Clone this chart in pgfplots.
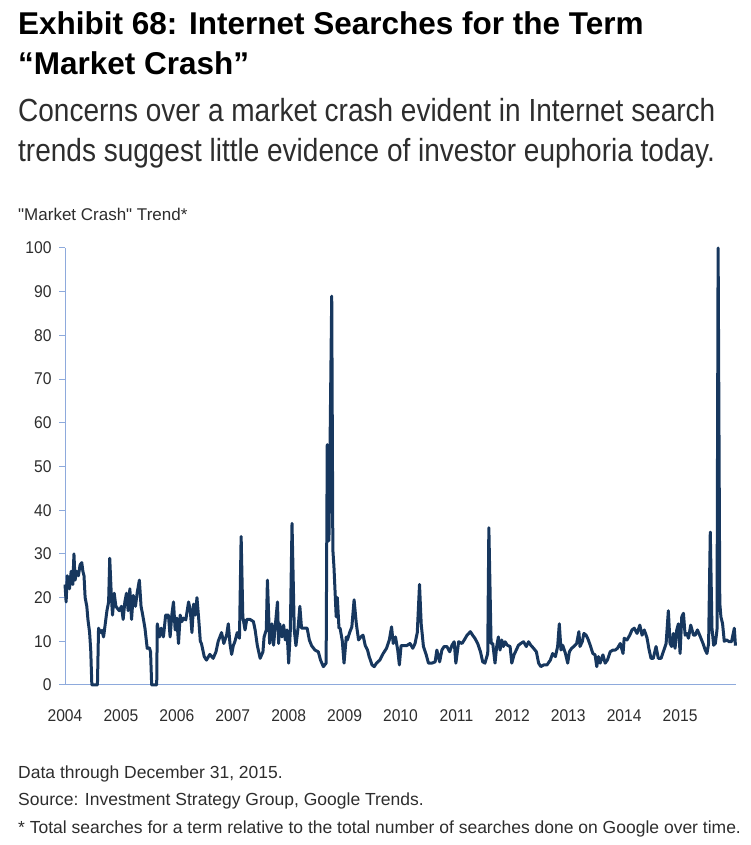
\documentclass[border=0pt]{standalone}
\usepackage{fontspec}
\setmainfont{Liberation Sans}
\newfontfamily\titlefont[FakeStretch=1.0]{Liberation Sans}
\newfontfamily\subfont[FakeStretch=0.875]{Liberation Sans}
\newfontfamily\smallfont[FakeStretch=1.0]{Liberation Sans}
\newfontfamily\tickfont[FakeStretch=0.92]{Liberation Sans}
\usepackage{pgfplots}
\pgfplotsset{compat=1.18}

\definecolor{navy}{RGB}{23,55,94}
\definecolor{axisblue}{RGB}{142,170,220}
\definecolor{txtgray}{RGB}{45,45,45}

\pgfplotstableread{
x y
2004.00 23
2004.02 19
2004.04 25
2004.08 22
2004.11 26
2004.14 23
2004.16 30
2004.18 24
2004.21 26
2004.24 25
2004.27 27.5
2004.30 28
2004.32 26
2004.34 25
2004.36 20
2004.39 18
2004.41 15
2004.44 12
2004.46 8
2004.48 0
2004.58 0
2004.60 13
2004.63 12
2004.66 12.5
2004.69 11
2004.72 14
2004.75 17
2004.78 19
2004.80 29
2004.83 20
2004.85 16
2004.88 21
2004.91 18
2004.94 17.5
2004.97 17
2005.01 18
2005.04 15
2005.07 19
2005.10 21
2005.13 17
2005.16 22
2005.19 15
2005.22 20.5
2005.26 18
2005.29 21
2005.33 24
2005.36 18
2005.39 16
2005.43 13
2005.47 8.4
2005.51 8.5
2005.53 7.6
2005.55 0
2005.64 0
2005.65 14
2005.69 11
2005.72 13
2005.76 11
2005.80 16
2005.85 16
2005.88 11
2005.91 16
2005.94 19
2005.97 12.6
2006.00 15.3
2006.03 9.5
2006.06 16
2006.09 14.5
2006.12 15.3
2006.16 14.9
2006.21 19
2006.24 17.2
2006.27 12
2006.30 18.5
2006.33 16
2006.36 20
2006.39 15.3
2006.42 10
2006.44 9.5
2006.49 6.5
2006.53 5.7
2006.59 7
2006.65 6.1
2006.70 7.6
2006.74 10
2006.80 12
2006.84 9.5
2006.89 11.4
2006.92 14
2006.95 9.5
2006.98 7
2007.01 9
2007.04 10
2007.08 12
2007.12 10.7
2007.15 34
2007.18 15.6
2007.22 12.6
2007.25 15
2007.31 15
2007.37 14.5
2007.40 12.6
2007.44 9
2007.49 6.1
2007.54 7.6
2007.56 11
2007.60 12.6
2007.62 24
2007.66 9.5
2007.70 14
2007.73 9.1
2007.76 13.5
2007.80 19
2007.82 9.5
2007.84 14
2007.88 11
2007.91 13.7
2007.94 10.3
2007.97 12.6
2008.00 5
2008.03 12.6
2008.06 37
2008.10 12.6
2008.13 9
2008.17 13.3
2008.20 18
2008.23 13
2008.27 13
2008.33 13
2008.37 10.3
2008.41 9
2008.47 8
2008.53 7.6
2008.57 5.7
2008.62 4.2
2008.67 5
2008.69 55
2008.72 33
2008.74 55
2008.77 89
2008.79 31
2008.81 27
2008.85 15.6
2008.87 20
2008.90 13
2008.92 13
2008.96 10
2008.99 5
2009.03 11
2009.05 10.3
2009.09 12
2009.13 13.3
2009.17 19.5
2009.21 14
2009.25 10.3
2009.29 11
2009.33 11.4
2009.37 9
2009.41 8
2009.44 6.5
2009.49 4.6
2009.53 4.2
2009.57 5
2009.63 5.7
2009.69 7.2
2009.75 8.4
2009.80 10.3
2009.84 13.3
2009.87 9.5
2009.91 11
2009.95 8
2009.98 4.6
2010.01 9
2010.05 9
2010.11 9
2010.17 9.5
2010.22 8.4
2010.26 9.5
2010.30 12
2010.34 23
2010.37 14
2010.41 8.8
2010.46 6.9
2010.50 5
2010.56 5
2010.62 5.3
2010.65 8
2010.70 5.3
2010.74 8
2010.78 8.8
2010.83 8.8
2010.88 7.6
2010.92 9.1
2010.96 9.9
2010.99 5
2011.04 9.9
2011.10 9.5
2011.14 10.3
2011.19 11.4
2011.25 12.2
2011.29 11.4
2011.33 10.7
2011.38 9.5
2011.43 7.6
2011.47 5.3
2011.51 5
2011.56 7.2
2011.58 36
2011.62 9.5
2011.65 9.5
2011.69 5
2011.72 8.8
2011.75 11
2011.78 8
2011.81 10.3
2011.84 8.8
2011.87 9.9
2011.91 9.1
2011.96 8.8
2011.99 5
2012.03 6.9
2012.07 8
2012.11 9.1
2012.15 9.5
2012.20 9.9
2012.25 8.8
2012.29 9.9
2012.33 9.1
2012.38 8.4
2012.43 7.6
2012.47 5
2012.51 4.2
2012.56 4.6
2012.62 4.6
2012.68 5.7
2012.72 7.2
2012.77 6.5
2012.81 8.8
2012.84 14
2012.87 8
2012.90 9.1
2012.95 7.2
2012.99 5
2013.02 7.6
2013.06 8.4
2013.10 8.8
2013.15 9.5
2013.19 12.2
2013.21 8.8
2013.25 9.9
2013.28 11.8
2013.32 11.4
2013.36 10.3
2013.40 8.8
2013.44 7.2
2013.48 6.9
2013.51 4.2
2013.54 6.5
2013.57 5
2013.62 6.9
2013.66 5
2013.70 5.7
2013.75 7.6
2013.80 8
2013.84 8
2013.88 8.4
2013.93 9.5
2013.98 7.2
2014.00 10.7
2014.05 10.3
2014.10 11.4
2014.14 12.6
2014.18 13
2014.23 11.8
2014.28 13.7
2014.32 11.4
2014.36 12.6
2014.41 10.7
2014.44 8.4
2014.48 6.1
2014.52 6.1
2014.57 8.8
2014.61 6.1
2014.66 6.1
2014.70 7.6
2014.75 9.5
2014.79 17
2014.82 9.5
2014.85 8.8
2014.88 11.8
2014.91 8.4
2014.94 12.6
2014.97 14
2015.00 7.2
2015.03 15.6
2015.06 16.4
2015.09 11.4
2015.12 11.8
2015.15 10.7
2015.19 13.7
2015.24 11.4
2015.27 11.4
2015.31 12.6
2015.36 11.1
2015.41 9.5
2015.45 8
2015.48 7.2
2015.51 9.5
2015.54 35
2015.57 13
2015.60 9.1
2015.63 9.5
2015.66 12.6
2015.68 100
2015.71 18.7
2015.73 15.6
2015.76 14
2015.79 10
2015.83 10.3
2015.88 9.9
2015.92 9.9
2015.97 13
2015.99 9
}\trend

\begin{document}
\begin{tikzpicture}[x=1pt,y=1pt]
\useasboundingbox (0,0) rectangle (750,845);

\node[anchor=base west, inner sep=0, font=\titlefont\bfseries\fontsize{31.5}{36}\selectfont, text=black] at (18,810) {Exhibit 68: Internet Searches for the Term};
\node[anchor=base west, inner sep=0, font=\titlefont\bfseries\fontsize{31.5}{36}\selectfont, text=black] at (18,770) {“Market Crash”};
\node[anchor=base west, inner sep=0, font=\subfont\fontsize{32}{36}\selectfont, text=txtgray] at (18,723) {Concerns over a market crash evident in Internet search};
\node[anchor=base west, inner sep=0, font=\subfont\fontsize{32}{36}\selectfont, text=txtgray] at (18,683) {trends suggest little evidence of investor euphoria today.};

\node[anchor=base west, inner sep=0, font=\smallfont\fontsize{17}{20}\selectfont, text=txtgray] at (18,624) {"Market Crash" Trend*};

\begin{axis}[
  at={(65pt,160pt)}, anchor=south west,
  scale only axis, width=671pt, height=437pt,
  xmin=2004, xmax=2016, ymin=0, ymax=100,
  axis lines=left,
  axis line style={-, draw=axisblue, line width=1pt},
  xtick={2004,2005,...,2015},
  xticklabels={2004,2005,2006,2007,2008,2009,2010,2011,2012,2013,2014,2015},
  ytick={0,10,...,100},
  tick align=outside,
  major tick length=6pt,
  ytick style={draw=axisblue, line width=1pt},
  xtick style={draw=none},
  /pgf/number format/assume math mode=true,
  tick label style={font=\tickfont\fontsize{17}{20}\selectfont, text=txtgray},
  xticklabel style={yshift=-15pt},
  yticklabel style={xshift=-4pt},
  clip=false,
]
\addplot[navy, line width=3pt, line join=round, mark=none] table[x=x, y=y] {\trend};
\end{axis}

\node[anchor=base west, inner sep=0, font=\smallfont\fontsize{17.5}{20}\selectfont, text=txtgray] at (18,66) {Data through December 31, 2015.};
\node[anchor=base west, inner sep=0, font=\smallfont\fontsize{17.5}{20}\selectfont, text=txtgray] at (18,39) {Source: Investment Strategy Group, Google Trends.};
\node[anchor=base west, inner sep=0, font=\smallfont\fontsize{17.5}{20}\selectfont, text=txtgray] at (18,12) {* Total searches for a term relative to the total number of searches done on Google over time.};
\end{tikzpicture}
\end{document}
